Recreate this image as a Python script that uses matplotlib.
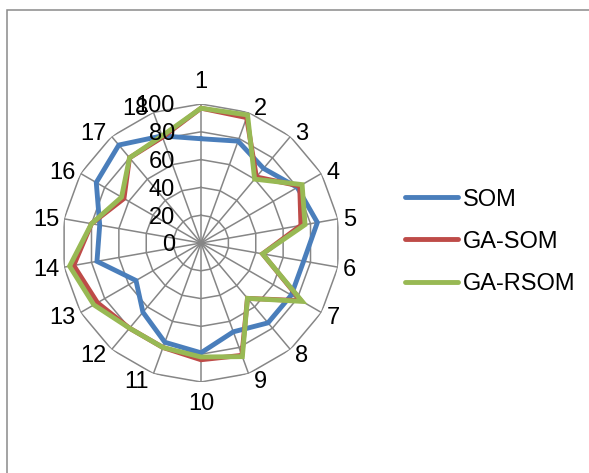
import numpy as np
import matplotlib
matplotlib.use("Agg")
import matplotlib.pyplot as plt
from matplotlib.patches import Rectangle

plt.rcParams["font.family"] = ["Liberation Sans", "DejaVu Sans"]

categories = [str(i) for i in range(1, 19)]
som = [75, 78, 70, 80, 85, 75, 75, 75, 68, 79, 76, 65, 54, 76, 74, 87, 92, 82]
ga_som = [97, 96, 62, 82, 73, 45, 83, 52, 86, 84, 80, 80, 86, 93, 80, 64, 80, 81]
ga_rsom = [97, 98, 60, 84, 76, 45, 84, 52, 87, 82, 80, 80, 89, 96, 80, 66, 80, 82]
series_names = ["SOM", "GA-SOM", "GA-RSOM"]
series_colors = ["#4A7EBB", "#BE4B48", "#98B954"]
ring_values = [0, 20, 40, 60, 80, 100]

GRID = "#868686"
FS = 17
PX = 0.72  # points per pixel at dpi 100

fig = plt.figure(figsize=(5.89, 4.73), dpi=100)
fig.patch.set_facecolor("white")

# chart frame, only left and top edges fall inside the image
fig.add_artist(Rectangle((6.5 / 589, -0.2), 1.5, (473 - 10.5) / 473 + 0.2,
                         transform=fig.transFigure, fill=False,
                         edgecolor="#8a8a8a", lw=1.1, clip_on=False))

cx, cy, rad = 201, 243, 139
ax = fig.add_axes([(cx - rad) / 589, (473 - cy - rad) / 473, 2 * rad / 589, 2 * rad / 473],
                  projection="polar")
ax.set_theta_zero_location("N")
ax.set_theta_direction(-1)
ax.set_ylim(0, 100)
ax.set_xticks([])
ax.set_yticks([])
ax.grid(False)
ax.spines["polar"].set_visible(False)
ax.patch.set_alpha(0)

n = len(categories)
theta = np.deg2rad(np.arange(n) * 360.0 / n)
theta_closed = np.append(theta, theta[0])

# polygon rings and spokes
for r in ring_values[1:]:
    ax.plot(theta_closed, [r] * (n + 1), color=GRID, lw=1.1, zorder=1)
for t in theta:
    ax.plot([t, t], [0, 100], color=GRID, lw=1.1, zorder=1)

for name, vals, col in zip(series_names, [som, ga_som, ga_rsom], series_colors):
    ax.plot(theta_closed, vals + vals[:1], color=col, lw=3.5, label=name,
            solid_joinstyle="miter", solid_capstyle="round", zorder=3)

# radial value labels left of the first spoke
for r in ring_values:
    ax.annotate(str(r), xy=(0, r), xytext=(-26 * PX, -2.3 * PX),
                textcoords="offset points", ha="right", va="center",
                fontsize=FS, color="black", annotation_clip=False, zorder=4)

# category labels around the outer ring
for lab, t in zip(categories, theta):
    s, c = np.sin(t), np.cos(t)
    if abs(s) < 0.05:
        ha = "center"
        va = "bottom" if c > 0 else "top"
        off = (0, 11 * PX if c > 0 else -11 * PX)
    else:
        ha = "left" if s > 0 else "right"
        va = "center"
        off = (5 * PX * np.sign(s), (6 * c - 2.3) * PX)
    ax.annotate(lab, xy=(t, 100), xytext=off, textcoords="offset points",
                ha=ha, va=va, fontsize=FS, color="black", annotation_clip=False)

fig.legend(loc="center left", bbox_to_anchor=(405 / 589, (473 - 241.7) / 473),
           frameon=False, fontsize=FS, handlelength=2.25, handletextpad=0.22,
           labelspacing=0.85, borderpad=0, borderaxespad=0)

fig.savefig("out.png", dpi=100, facecolor="white")
